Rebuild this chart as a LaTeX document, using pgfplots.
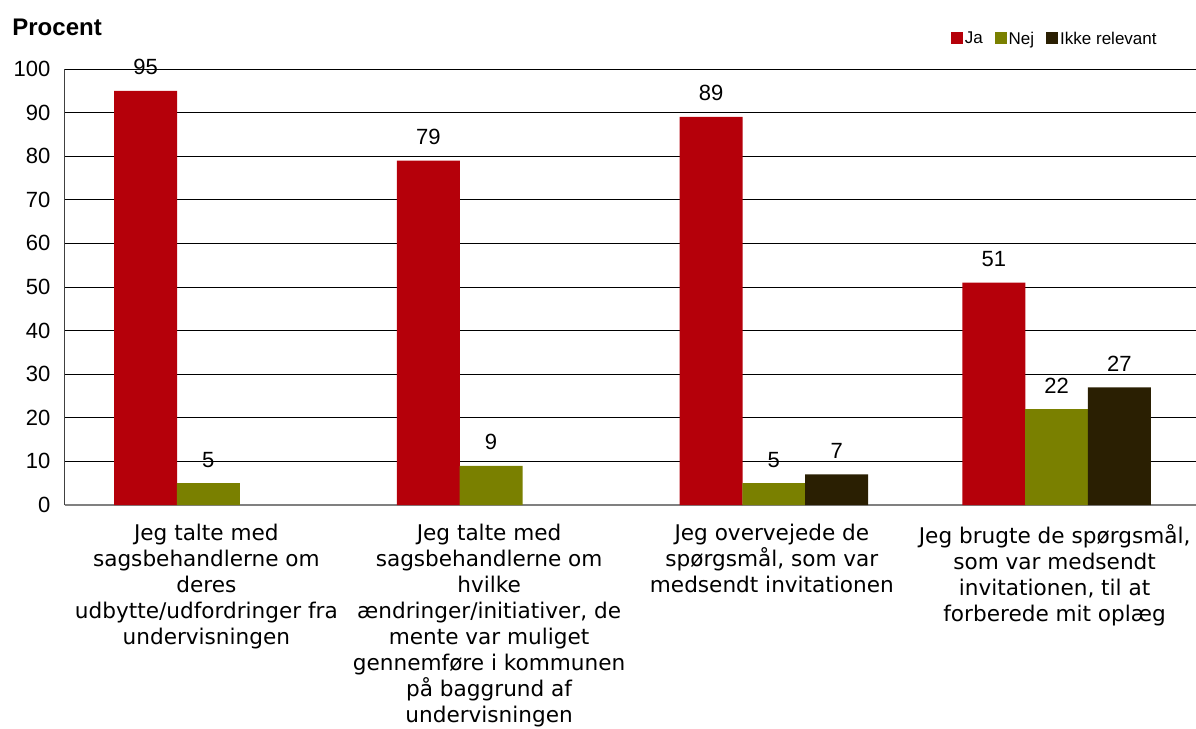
\documentclass[border=0pt]{standalone}
\usepackage{fontspec}
\setmainfont{Liberation Sans}
\newfontfamily\verd{DejaVu Sans}
\usepackage{pgfplots}
\pgfplotsset{compat=1.18}

\definecolor{ja}{HTML}{B5000A}
\definecolor{nej}{HTML}{7A8000}
\definecolor{ikke}{HTML}{2A1F02}

\pgfplotsset{
  sqlegend/.style={legend image code/.code={\fill[##1] (0pt,-2.5pt) rectangle (6pt,3.5pt);}},
}

\begin{document}
\begin{tikzpicture}
\begin{axis}[
  scale only axis, width=565.5pt, height=218pt,
  at={(0,0)}, anchor=south west,
  xmin=-0.5, xmax=3.5, ymin=0, ymax=100,
  xtick={0,1,2,3}, ytick={0,10,...,100},
  xticklabels={
    {Jeg talte med\\sagsbehandlerne om\\deres\\udbytte/udfordringer fra\\undervisningen},
    {Jeg talte med\\sagsbehandlerne om\\hvilke\\ændringer/initiativer, de\\mente var muliget\\gennemføre i kommunen\\på baggrund af\\undervisningen},
    {Jeg overvejede de\\spørgsmål, som var\\medsendt invitationen},
    {Jeg brugte de spørgsmål,\\som var medsendt\\invitationen, til at\\forberede mit oplæg}},
  xticklabel style={align=center, anchor=north, font={\verd\fontsize{10.8}{13}\selectfont}},
  xticklabel shift=6pt,
  yticklabel style={font=\fontsize{11}{13}\selectfont},
  yticklabel shift=3.8pt,
  /pgf/number format/assume math mode=true,
  major tick length=0pt,
  axis x line*=bottom, axis y line*=left,
  x axis line style={-, draw=black!50, line width=0.8pt},
  y axis line style={-, draw=black!75, line width=0.5pt},
  ymajorgrids, grid style={black, line width=0.5pt},
  every node near coord/.append style={font=\fontsize{11}{13}\selectfont, yshift=4.4pt},
  legend columns=3,
  legend style={at={(0.9673,1.0677)}, anchor=east, draw=none, fill=none, inner sep=0pt,
    font=\fontsize{8.5}{10}\selectfont, nodes={inner sep=1pt},
    /tikz/every even column/.append style={column sep=5pt}},
]
% bars placed at category position plus their offset within the group
\addplot[ybar, bar width=0.223, bar shift=0, fill=ja, draw=none, sqlegend, nodes near coords]
  coordinates {(-0.215,95) (0.785,79) (1.785,89) (2.785,51)};
\addplot[ybar, bar width=0.223, bar shift=0, fill=nej, draw=none, sqlegend, nodes near coords]
  coordinates {(0.007,5) (1.007,9) (2.007,5) (3.007,22)};
\addplot[ybar, bar width=0.223, bar shift=0, fill=ikke, draw=none, sqlegend, nodes near coords]
  coordinates {(2.229,7) (3.229,27)};
\legend{Ja,Nej,Ikke relevant}
\end{axis}
\node[anchor=base west, inner sep=0pt, font=\bfseries\fontsize{12}{14}\selectfont] at (-26.5pt,234.5pt) {Procent};
\pgfresetboundingbox
\useasboundingbox (-32.5pt,-112pt) rectangle (565.5pt,252.5pt);
\end{tikzpicture}
\end{document}
